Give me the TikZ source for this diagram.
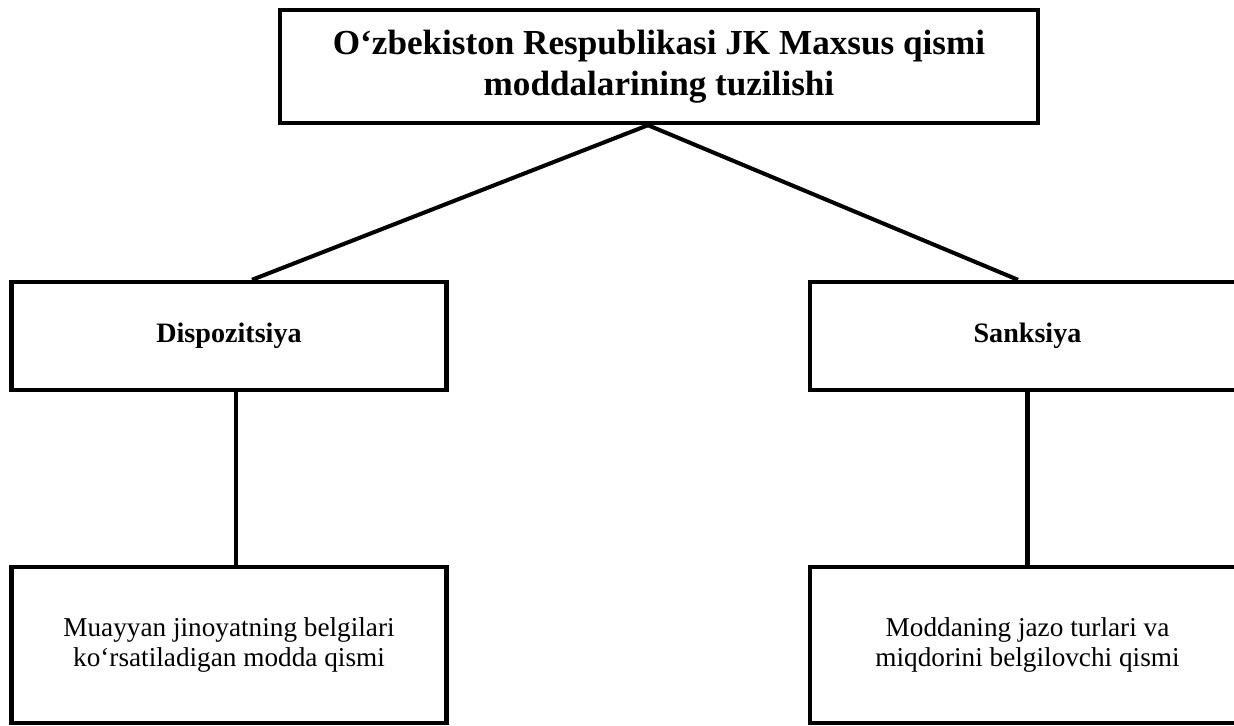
\documentclass[tikz,border=0pt]{standalone}
\usepackage{fontspec}
\setmainfont{Liberation Serif}
\usetikzlibrary{calc}

\begin{document}
\begin{tikzpicture}[
  every node/.style={font=\fontsize{15.5}{17}\selectfont},
  titlebox/.style={rectangle, draw=black, line width=2.5pt, minimum width=15.16cm, minimum height=2.26cm, align=center, font=\fontsize{20}{23}\selectfont\bfseries},
  partbox/.style={rectangle, draw=black, line width=2.5pt, minimum width=8.7cm, minimum height=2.16cm, align=center, font=\fontsize{16}{19}\selectfont\bfseries},
  notebox/.style={rectangle, draw=black, line width=2.5pt, minimum width=8.7cm, minimum height=3.12cm, align=center, font=\fontsize{15.5}{17.5}\selectfont},
  link/.style={draw=black, line width=2.3pt},
]
\useasboundingbox (0,0) rectangle (24.68,-14.52);

\node[titlebox] (title) at (13.18,-1.33) {O‘zbekiston Respublikasi JK Maxsus qismi\\moddalarining tuzilishi};

\node[partbox] (disp) at (4.58,-6.72) {Dispozitsiya};
\node[partbox] (sank) at (20.55,-6.72) {Sanksiya};

\node[notebox] (dispnote) at (4.58,-12.9) {Muayyan jinoyatning belgilari\\ko‘rsatiladigan modda qismi};
\node[notebox] (sanknote) at (20.55,-12.9) {Moddaning jazo turlari va\\miqdorini belgilovchi qismi};

% Branches from the title
\draw[link] ($(title.south)+(-0.22,0)$) -- ($(disp.north)+(0.46,0)$);
\draw[link] ($(title.south)+(-0.22,0)$) -- ($(sank.north)+(-0.19,0)$);

% Parts to their notes
\draw[link] ($(disp.south)+(0.14,0)$) -- ($(dispnote.north)+(0.14,0)$);
\draw[link] (sank.south) -- (sanknote.north);

\end{tikzpicture}
\end{document}
